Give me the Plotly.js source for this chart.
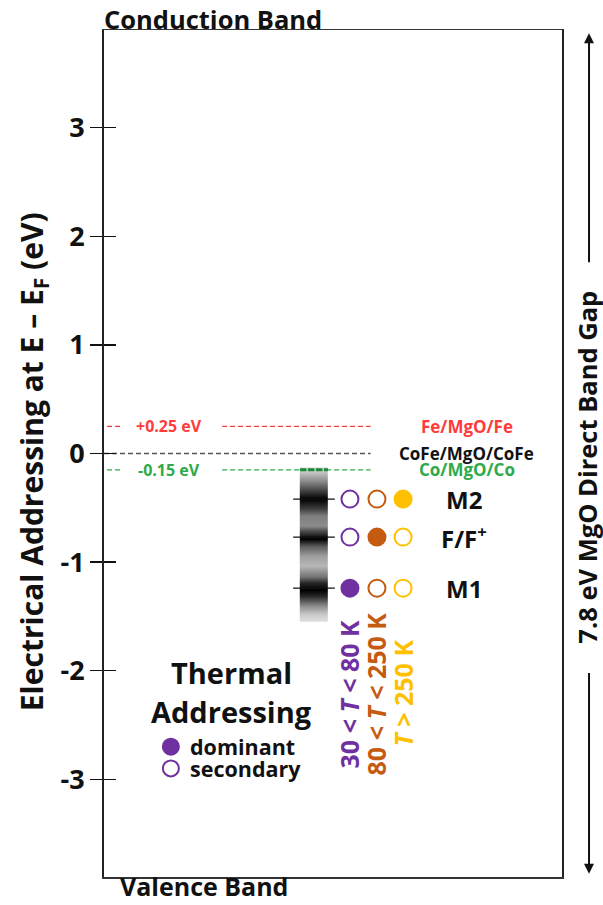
<!DOCTYPE html>
<html>
<head>
<meta charset="utf-8">
<script src="https://cdn.plot.ly/plotly-3.0.1.min.js"></script>
<style>html,body{margin:0;padding:0;background:#fff;}#chart{width:603px;height:905px;}</style>
</head>
<body>
<div id="chart"></div>
<script>
// ---- data ----
const yTickVals = [-3, -2, -1, 0, 1, 2, 3];
const yTickText = ['-3', '-2', '-1', '0', '1', '2', '3'];
const bandGap = 7.8;
const yTitle = 'Electrical Addressing at E – E<sub>F</sub> (eV)';

const interfaces = ['Fe/MgO/Fe', 'CoFe/MgO/CoFe', 'Co/MgO/Co'];
const interfaceEnergies = [0.25, 0, -0.15];
const interfaceOffsetText = ['+0.25 eV', '', '-0.15 eV'];
const interfaceColors = ['#FF3B3B', '#555555', '#2EAA4A'];

const states = ['M2', 'F/F<sup>+</sup>', 'M1'];
const stateEnergies = [-0.42, -0.77, -1.24];

const regimes = ['30 &lt; <i>T</i> &lt; 80 K', '80 &lt; <i>T</i> &lt; 250 K', '<i>T</i> &gt; 250 K'];
const regimeColors = ['#7030A0', '#C55A11', '#FFC000'];
const dominantRegime = [2, 1, 0]; // per state (M2, F/F+, M1)

const spectrumEnergies = [-0.17, -0.25, -0.34, -0.42, -0.51, -0.57, -0.66, -0.71, -0.78, -0.85, -0.94, -1.03, -1.13, -1.19, -1.25, -1.31, -1.40, -1.47, -1.52];
const spectrumIntensity = [0.78, 0.55, 0.25, 0.0, 0.25, 0.5, 0.55, 0.3, 0.0, 0.35, 0.62, 0.72, 0.45, 0.15, 0.0, 0.15, 0.55, 0.78, 0.85];

const legendTitle = ['Thermal', 'Addressing'];
const legendLabels = ['dominant', 'secondary'];
const legendEnergies = [-2.70, -2.90];

// ---- layout constants (paper x positions) ----
const FONT = '"Open Sans", sans-serif';
const lineEnd = 0.582, gapStart = 0.039, gapEnd = 0.258, lineStart = 0.0065;
const barX = [0.443, 0.474];
const barEdgeX = [0.428, 0.489];
const peakTickX = [0.413, 0.504];
const regimeX = [0.537, 0.596, 0.653];
const stateLabelX = 0.786;
const interfaceLabelX = 0.792;
const arrowX = 1.059;
const arrowGap = [1.67, -1.93];
const halfGap = bandGap / 2;

const traces = [];

// spectrum bar
traces.push({
  type: 'heatmap', x: barX, y: spectrumEnergies,
  z: spectrumIntensity.map(v => [v, v]),
  colorscale: [[0, '#000000'], [1, '#ffffff']], zmin: 0, zmax: 1,
  zsmooth: 'best', showscale: false, hoverinfo: 'skip'
});

// interface lines
interfaces.forEach((name, i) => {
  const e = interfaceEnergies[i];
  const xs = interfaceOffsetText[i] ? [lineStart, gapStart, null, gapEnd, lineEnd] : [0, lineEnd];
  traces.push({
    type: 'scatter', mode: 'lines', x: xs, y: xs.map(v => v === null ? null : e),
    line: {color: interfaceColors[i], width: 1.3, dash: '5px,3px'},
    hoverinfo: 'skip', cliponaxis: false
  });
});
// darker overlap of Co/MgO/Co line on top of the bar
traces.push({
  type: 'scatter', mode: 'lines', x: barEdgeX, y: [interfaceEnergies[2], interfaceEnergies[2]],
  line: {color: '#1E8A38', width: 3, dash: '6px,2px'}, hoverinfo: 'skip'
});

// peak ticks across bar
stateEnergies.forEach(e => {
  traces.push({
    type: 'scatter', mode: 'lines', x: peakTickX, y: [e, e],
    line: {color: '#111', width: 1.2}, hoverinfo: 'skip'
  });
});

// regime circles
regimes.forEach((r, j) => {
  traces.push({
    type: 'scatter', mode: 'markers',
    x: stateEnergies.map(() => regimeX[j]), y: stateEnergies,
    marker: {
      size: 17, symbol: 'circle',
      color: stateEnergies.map((e, i) => dominantRegime[i] === j ? regimeColors[j] : '#ffffff'),
      line: {color: regimeColors[j], width: 2}
    },
    hoverinfo: 'skip'
  });
});

// legend markers
traces.push({
  type: 'scatter', mode: 'markers', x: [0.146, 0.146], y: legendEnergies,
  marker: {size: 16, color: [regimeColors[0], '#ffffff'], line: {color: regimeColors[0], width: 2}},
  hoverinfo: 'skip'
});

const annotations = [];

// y-axis title
annotations.push({xref: 'paper', yref: 'y', x: -0.155, y: -0.08, xanchor: 'center', yanchor: 'middle',
  text: yTitle, textangle: -90, showarrow: false,
  font: {family: FONT, size: 30, color: '#111', weight: 'bold'}});

// offset labels and interface names
interfaces.forEach((name, i) => {
  if (interfaceOffsetText[i]) {
    annotations.push({xref: 'x', yref: 'y', x: 0.142, y: interfaceEnergies[i], text: interfaceOffsetText[i],
      showarrow: false, font: {family: FONT, size: 16, color: interfaceColors[i], weight: 'bold'}});
  }
  annotations.push({xref: 'x', yref: 'y', x: interfaceLabelX, y: interfaceEnergies[i], text: name,
    showarrow: false, font: {family: FONT, size: 17, color: i === 1 ? '#111' : interfaceColors[i], weight: 'bold'}});
});

// state labels
states.forEach((s, i) => {
  annotations.push({xref: 'x', yref: 'y', x: stateLabelX, y: stateEnergies[i], text: s,
    showarrow: false, font: {family: FONT, size: 24, color: '#111', weight: 'bold'}});
});

// regime labels (rotated)
regimes.forEach((r, j) => {
  annotations.push({xref: 'x', yref: 'y', x: regimeX[j], y: -2.21, text: r, textangle: -90,
    showarrow: false, font: {family: FONT, size: 25, color: regimeColors[j], weight: 'bold'}});
});

// thermal addressing legend
annotations.push({xref: 'x', yref: 'y', x: 0.279, y: -2.02, text: legendTitle[0], showarrow: false,
  font: {family: FONT, size: 29, color: '#111', weight: 'bold'}});
annotations.push({xref: 'x', yref: 'y', x: 0.279, y: -2.38, text: legendTitle[1], showarrow: false,
  font: {family: FONT, size: 29, color: '#111', weight: 'bold'}});
legendLabels.forEach((l, i) => {
  annotations.push({xref: 'x', yref: 'y', x: 0.184, y: legendEnergies[i], text: l, showarrow: false,
    xanchor: 'left', font: {family: FONT, size: 21.5, color: '#111', weight: 'bold'}});
});

// band labels
annotations.push({xref: 'paper', yref: 'paper', x: -0.004, y: 1, yanchor: 'top', xanchor: 'left', yshift: 30,
  text: 'Conduction Band', showarrow: false, font: {family: FONT, size: 25.5, color: '#111', weight: 'bold'}});
annotations.push({xref: 'paper', yref: 'paper', x: 0.03, y: 0, yanchor: 'bottom', xanchor: 'left', yshift: -28,
  text: 'Valence Band', showarrow: false, font: {family: FONT, size: 25, color: '#111', weight: 'bold'}});

// band gap arrows (upper and lower halves)
annotations.push({xref: 'paper', yref: 'y', x: arrowX, y: halfGap - 0.03, axref: 'pixel', ayref: 'y', ax: 0, ay: arrowGap[0],
  text: ' ', showarrow: true, arrowhead: 2, arrowsize: 1, arrowwidth: 2, arrowcolor: '#111'});
annotations.push({xref: 'paper', yref: 'y', x: arrowX, y: -halfGap + 0.03, axref: 'pixel', ayref: 'y', ax: 0, ay: arrowGap[1],
  text: ' ', showarrow: true, arrowhead: 2, arrowsize: 1, arrowwidth: 2, arrowcolor: '#111'});
annotations.push({xref: 'paper', yref: 'y', x: arrowX, y: -0.13, xanchor: 'center', yanchor: 'middle', xshift: -2,
  text: bandGap + ' eV MgO Direct Band Gap', textangle: -90, borderpad: 0,
  showarrow: false, font: {family: FONT, size: 25.5, color: '#111', weight: 'bold'}});

const layout = {
  width: 603, height: 905,
  margin: {l: 104, r: 41, t: 30, b: 28},
  paper_bgcolor: '#ffffff', plot_bgcolor: '#ffffff',
  showlegend: false,
  xaxis: {range: [0, 1], showgrid: false, zeroline: false, showticklabels: false, ticks: '',
    showline: true, mirror: true, linecolor: '#333', linewidth: 1.5, fixedrange: true},
  yaxis: {range: [-halfGap, halfGap], showgrid: false, zeroline: false,
    tickvals: yTickVals, ticktext: yTickText, ticks: 'outside', ticklen: 12, tickwidth: 1.3, tickcolor: '#111',
    tickfont: {family: FONT, size: 27, color: '#111', weight: 'bold'},
    showline: true, mirror: true, linecolor: '#222', linewidth: 2,
    automargin: false, fixedrange: true},
  yaxis2: {range: [-halfGap, halfGap], overlaying: 'y', side: 'left', showgrid: false, zeroline: false,
    tickvals: yTickVals, showticklabels: false, ticks: 'inside', ticklen: 12, tickwidth: 1.3, tickcolor: '#111',
    showline: false, fixedrange: true},
  annotations: annotations
};

// invisible trace so the inner-tick axis is drawn
traces.push({type: 'scatter', mode: 'markers', x: [0.5], y: [0], yaxis: 'y2', marker: {opacity: 0}, hoverinfo: 'skip'});

Plotly.newPlot('chart', traces, layout, {staticPlot: true, displayModeBar: false});
</script>
</body>
</html>
